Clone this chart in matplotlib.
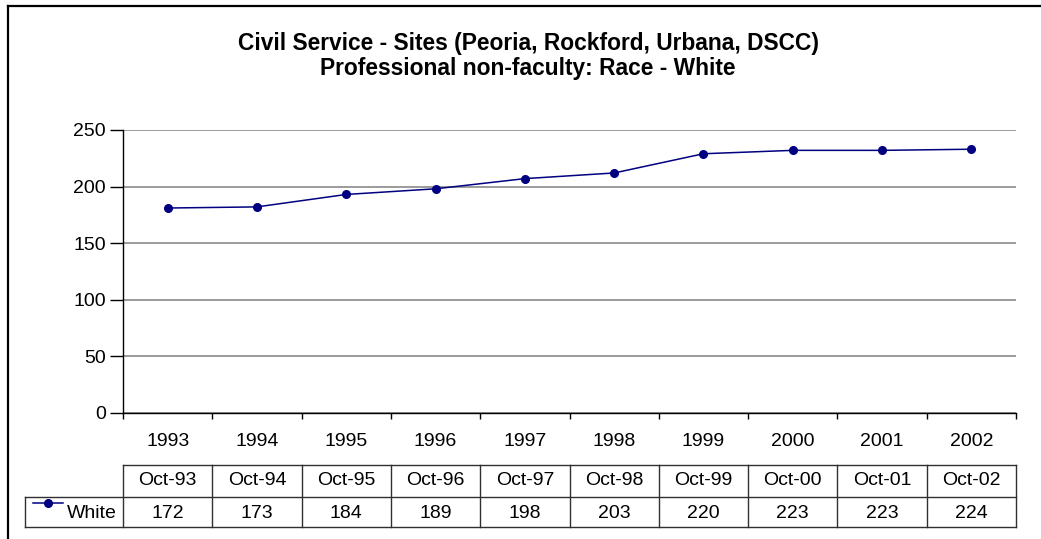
import matplotlib
matplotlib.use("Agg")
import matplotlib.pyplot as plt
from matplotlib.lines import Line2D
from matplotlib.transforms import blended_transform_factory

# ---- data ----
years = ["1993", "1994", "1995", "1996", "1997", "1998", "1999", "2000", "2001", "2002"]
periods = ["Oct-93", "Oct-94", "Oct-95", "Oct-96", "Oct-97", "Oct-98", "Oct-99", "Oct-00", "Oct-01", "Oct-02"]
table_values = [172, 173, 184, 189, 198, 203, 220, 223, 223, 224]
plotted_values = [181, 182, 193, 198, 207, 212, 229, 232, 232, 233]
series_name = "White"
title_lines = ["Civil Service - Sites (Peoria, Rockford, Urbana, DSCC)",
               "Professional non-faculty: Race - White"]

W, H = 1041, 539
plt.rcParams['font.family'] = ['Liberation Sans', 'DejaVu Sans']
fig = plt.figure(figsize=(W / 100, H / 100), dpi=100)
fig.patch.set_facecolor("white")

def fx(px):
    return px / W

def fy(py):
    return 1 - py / H

x_left, x_right = 123, 1016
y_top, y_bot = 130, 412.7
ax = fig.add_axes([fx(x_left), fy(y_bot), fx(x_right) - fx(x_left), fy(y_top) - fy(y_bot)])
n = len(years)
ax.set_xlim(0, n)
ax.set_ylim(0, 250)

navy = "#000080"
xs = [i + 0.5 for i in range(n)]
ax.plot(xs, plotted_values, color=navy, lw=1.1, marker="o", ms=5.5, zorder=3, clip_on=False)

# grid
ax.set_yticks(range(0, 251, 50))
ax.yaxis.grid(True, color="#808080", lw=1.1)
ax.set_axisbelow(True)
for s in ["top", "right"]:
    ax.spines[s].set_visible(False)
ax.spines["left"].set_color("black")
ax.spines["bottom"].set_color("black")
ax.spines["left"].set_linewidth(1.0)
ax.spines["bottom"].set_linewidth(1.0)
ax.set_xticks(range(0, n + 1))
ax.set_xticklabels([])
ax.tick_params(axis="x", direction="out", length=4.3, width=1, color="black")
ax.tick_params(axis="y", direction="out", length=9.3, width=1, color="black", labelsize=14, pad=3)

# year labels (category axis)
tr = blended_transform_factory(ax.transData, fig.transFigure)
for i, yv in enumerate(years):
    ax.text(i + 0.5, fy(441), yv, transform=tr, ha="center", va="center", fontsize=14)

# data table
lw_t = 1.0
tcol = "#303030"
label_left = -(x_left - 25) / ((x_right - x_left) / n)
y_h_top, y_mid, y_b = 464.7, 497, 527
def hline(x0, x1, yy):
    ax.add_line(Line2D([x0, x1], [fy(yy), fy(yy)], transform=tr, color=tcol, lw=lw_t, clip_on=False))
def vline(xx, y0, y1):
    ax.add_line(Line2D([xx, xx], [fy(y0), fy(y1)], transform=tr, color=tcol, lw=lw_t, clip_on=False))
hline(0, n, y_h_top)
hline(label_left, n, y_mid)
hline(label_left, n, y_b)
vline(label_left, y_mid, y_b)
for i in range(n + 1):
    vline(i, y_h_top, y_b)
for i in range(n):
    ax.text(i + 0.5, fy((y_h_top + y_mid) / 2), periods[i], transform=tr, ha="center", va="center", fontsize=14)
    ax.text(i + 0.5, fy((y_mid + y_b) / 2 + 1), str(table_values[i]), transform=tr, ha="center", va="center", fontsize=14)

# legend key in table
fig.add_artist(Line2D([fx(33), fx(63)], [fy(503), fy(503)], color=navy, lw=1.1))
fig.add_artist(Line2D([fx(48)], [fy(503)], color=navy, marker="o", ms=5.5, lw=0))
fig.text(fx(117), fy(514), series_name, ha="right", va="center", fontsize=14)

# title
fig.text(fx(528), fy(50), title_lines[0], ha="center", va="baseline", fontsize=16.4, fontweight="bold")
fig.text(fx(528), fy(75), title_lines[1], ha="center", va="baseline", fontsize=16.4, fontweight="bold")

# outer chart-area border (cropped at right and bottom)
fig.add_artist(Line2D([fx(7.5), fx(1041)], [fy(5.5), fy(5.5)], color="black", lw=1.6))
fig.add_artist(Line2D([fx(7.5), fx(7.5)], [fy(5.5), fy(539)], color="black", lw=1.6))

fig.savefig("out.png", dpi=100)
